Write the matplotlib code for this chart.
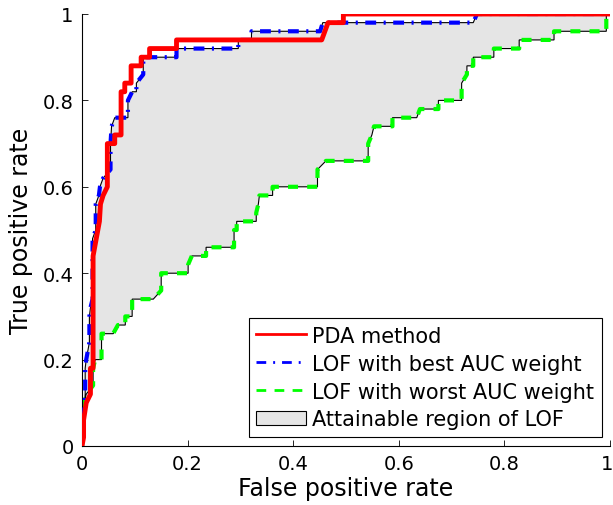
import numpy as np
import matplotlib
matplotlib.use('Agg')
from matplotlib import pyplot as plt
from matplotlib.lines import Line2D
from matplotlib.patches import Patch
from matplotlib.transforms import ScaledTranslation

# ROC curves (FPR, TPR)
pda_fpr = [0, 0.003, 0.003, 0.008, 0.016, 0.016, 0.021, 0.021, 0.033, 0.035, 0.040, 0.048,
           0.048, 0.062, 0.062, 0.074, 0.074, 0.081, 0.081, 0.093, 0.093, 0.112, 0.112,
           0.128, 0.128, 0.179, 0.179, 0.454, 0.460, 0.466, 0.495, 0.495, 1.0]
pda_tpr = [0, 0.02, 0.06, 0.10, 0.12, 0.18, 0.18, 0.44, 0.52, 0.56, 0.58, 0.60,
           0.70, 0.70, 0.72, 0.72, 0.82, 0.82, 0.84, 0.84, 0.88, 0.88, 0.90,
           0.90, 0.92, 0.92, 0.94, 0.94, 0.96, 0.98, 0.98, 1.0, 1.0]

best_fpr = [0, 0, 0.004, 0.006, 0.006, 0.008, 0.014, 0.014, 0.016, 0.020, 0.020, 0.026,
            0.026, 0.032, 0.034, 0.040, 0.054, 0.054, 0.056, 0.062, 0.087, 0.087, 0.095,
            0.103, 0.103, 0.116, 0.116, 0.179, 0.179, 0.296, 0.296, 0.321, 0.321, 0.451,
            0.456, 0.741, 0.748, 1.0]
best_tpr = [0, 0.06, 0.08, 0.12, 0.18, 0.20, 0.24, 0.30, 0.32, 0.34, 0.48, 0.50,
            0.56, 0.58, 0.60, 0.62, 0.64, 0.70, 0.74, 0.76, 0.76, 0.80, 0.82,
            0.82, 0.84, 0.86, 0.90, 0.90, 0.92, 0.92, 0.94, 0.94, 0.96, 0.96,
            0.98, 0.98, 1.0, 1.0]

worst_fpr = [0, 0.002, 0.004, 0.008, 0.021, 0.021, 0.025, 0.037, 0.037, 0.059, 0.068, 0.082,
             0.082, 0.095, 0.095, 0.135, 0.150, 0.150, 0.201, 0.201, 0.208, 0.235, 0.235,
             0.288, 0.288, 0.293, 0.293, 0.330, 0.330, 0.334, 0.336, 0.361, 0.361, 0.446,
             0.446, 0.462, 0.542, 0.542, 0.549, 0.553, 0.588, 0.588, 0.634, 0.640, 0.675,
             0.675, 0.719, 0.719, 0.729, 0.729, 0.741, 0.741, 0.780, 0.780, 0.828, 0.828,
             0.894, 0.894, 0.993, 0.993, 1.0]
worst_tpr = [0, 0.06, 0.10, 0.12, 0.14, 0.18, 0.20, 0.20, 0.26, 0.26, 0.28, 0.28,
             0.30, 0.30, 0.34, 0.34, 0.36, 0.40, 0.40, 0.42, 0.44, 0.44, 0.46,
             0.46, 0.50, 0.50, 0.52, 0.52, 0.54, 0.56, 0.58, 0.58, 0.60, 0.60,
             0.64, 0.66, 0.66, 0.70, 0.72, 0.74, 0.74, 0.76, 0.76, 0.78, 0.78,
             0.80, 0.80, 0.84, 0.86, 0.88, 0.88, 0.90, 0.90, 0.92, 0.92, 0.94,
             0.94, 0.96, 0.96, 1.0, 1.0]

ticks = [0, 0.2, 0.4, 0.6, 0.8, 1]
tick_labels = ['0', '0.2', '0.4', '0.6', '0.8', '1']
labels = ['PDA method', 'LOF with best AUC weight', 'LOF with worst AUC weight',
          'Attainable region of LOF']

plt.rcParams['font.family'] = 'DejaVu Sans'

fig = plt.figure(figsize=(6.13, 5.06), dpi=100)
ax = fig.add_axes([82 / 613, 59 / 506, 528 / 613, 432 / 506])

# region between best and worst LOF curves
ax.fill(np.concatenate([best_fpr, worst_fpr[::-1]]),
        np.concatenate([best_tpr, worst_tpr[::-1]]),
        facecolor='#e5e5e5', edgecolor='k', lw=0.8, zorder=1)

ax.plot(worst_fpr, worst_tpr, color='#00ff00', lw=3, dashes=(2.4, 2.2), zorder=2)
ax.plot(best_fpr, best_tpr, color='#0000ff', lw=3, dashes=(2.6, 1.8, 0.5, 1.8), zorder=3)
ax.plot(pda_fpr, pda_tpr, color='#ff0000', lw=3.5, zorder=4)

ax.set_xlim(0, 1)
ax.set_ylim(0, 1)
ax.set_xticks(ticks)
ax.set_xticklabels(tick_labels)
ax.set_yticks(ticks)
ax.set_yticklabels(tick_labels)
ax.tick_params(direction='in', length=4, width=0.6, labelsize=14, pad=6)
for s in ['top', 'right']:
    ax.spines[s].set_visible(False)
for s in ['left', 'bottom']:
    ax.spines[s].set_linewidth(0.8)

# nudge the last x tick label a little so it stays inside the figure
last = ax.get_xticklabels()[-1]
last.set_transform(last.get_transform() + ScaledTranslation(-3 / 100, 0, fig.dpi_scale_trans))

ax.set_xlabel('False positive rate', fontsize=17, labelpad=2)
ax.set_ylabel('True positive rate', fontsize=17, labelpad=7)

handles = [Line2D([], [], color='#ff0000', lw=2),
           Line2D([], [], color='#0000ff', lw=2, dashes=(3.5, 2.5, 0.7, 2.5)),
           Line2D([], [], color='#00ff00', lw=2, dashes=(3.5, 3)),
           Patch(facecolor='#e5e5e5', edgecolor='k', lw=0.8)]
leg = ax.legend(handles, labels, loc='lower left', bbox_to_anchor=(0.316, 0.0215, 0.669, 0.27),
                mode='expand', borderaxespad=0, fontsize=15, handlelength=2.4,
                handletextpad=0.3, labelspacing=0.38, borderpad=0.35, fancybox=False,
                framealpha=1, edgecolor='k')
leg.get_frame().set_linewidth(0.8)

fig.savefig('out.png', dpi=100)
